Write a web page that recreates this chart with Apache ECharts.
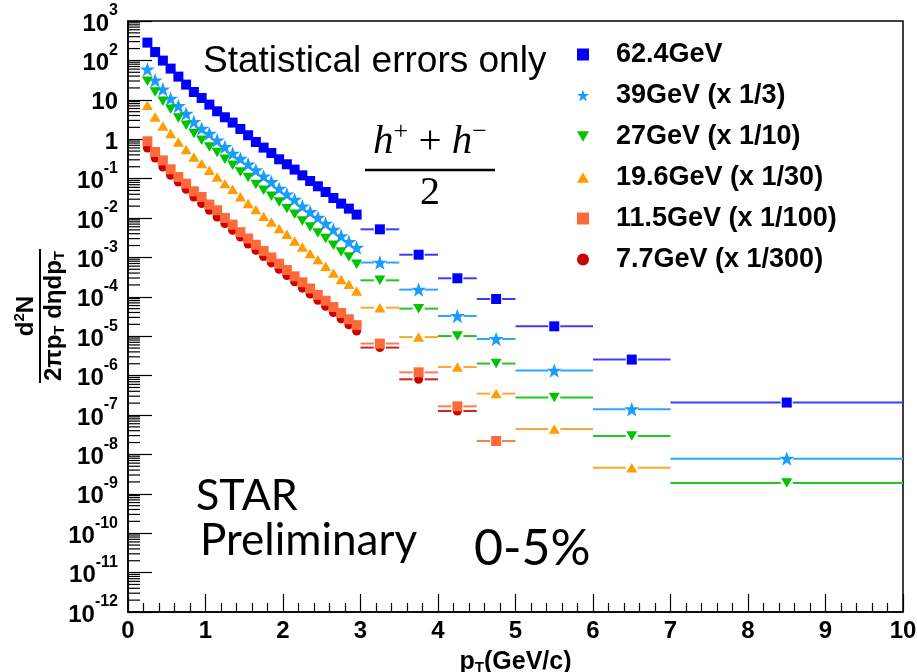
<!DOCTYPE html>
<html>
<head>
<meta charset="utf-8">
<script src="https://cdn.jsdelivr.net/npm/echarts@6/dist/echarts.min.js"></script>
<style>
html,body{margin:0;padding:0;background:#fff;overflow:hidden;}
#chart{width:917px;height:672px;}
</style>
</head>
<body>
<div id="chart"></div>
<script>
// Fine pT bins (bin centres, GeV/c)
const ptLow = [0.25,0.35,0.45,0.55,0.65,0.75,0.85,0.95,1.05,1.15,1.25,1.35,1.45,1.55,
               1.65,1.75,1.85,1.95,2.05,2.15,2.25,2.35,2.45,2.55,2.65,2.75,2.85,2.95];
// Coarse pT bins: lower edge, upper edge, centre
const ptHighLo  = [3.0,3.5,4.0,4.5,5.0,6.0,7.0];
const ptHighHi  = [3.5,4.0,4.5,5.0,6.0,7.0,10.0];
const ptHighMid = [3.25,3.75,4.25,4.75,5.5,6.5,8.5];

// Invariant yields, (h+ + h-)/2, 0-5% centrality, scaled as in legend
const yield624Low = [283,163,98.9,61.9,38.8,24.3,15.8,11.1,7.55,5.11,3.60,2.64,1.82,1.26,
                     0.849,0.612,0.447,0.309,0.231,0.169,0.121,0.0869,0.0638,0.0457,0.0322,0.0232,0.0173,0.0122];
const yield624High = [5.16e-3,1.17e-3,2.95e-4,8.8e-5,1.78e-5,2.55e-6,2.07e-7];

const yield39Low = [59.4,31.3,18.5,10.7,6.97,4.47,2.74,1.86,1.39,0.938,0.634,0.432,0.322,0.231,
                    0.163,0.114,0.0820,0.0557,0.0400,0.0293,0.0198,0.0142,0.0102,0.00721,0.00508,0.00349,0.00246,0.00177];
const yield39High = [7.4e-4,1.52e-4,3.26e-5,8.5e-6,1.34e-6,1.40e-7,7.8e-9];

const yield27Low = [29.5,15.8,9.16,5.74,3.45,2.25,1.39,0.938,0.634,0.457,0.309,0.218,0.147,0.106,
                    0.0705,0.0505,0.0356,0.0255,0.0173,0.0124,0.00839,0.00592,0.00416,0.00300,0.00203,0.00137,0.00102,0.000668];
const yield27High = [2.62e-4,5.0e-5,1.01e-5,2.02e-6,2.77e-7,2.93e-8,1.88e-9];

const yield196Low = [7.24,3.66,2.16,1.39,0.849,0.545,0.353,0.240,0.163,0.110,0.0746,0.0535,0.0347,0.0232,
                     0.0163,0.0110,0.00791,0.00538,0.00385,0.00261,0.00184,0.00125,0.000879,0.000594,0.000402,0.000274,0.000207,0.000140];
const yield196High = [5.3e-5,9.5e-6,1.65e-6,3.49e-7,4.4e-8,4.6e-9];

const yield115Low = [0.885,0.473,0.291,0.172,0.110,0.0746,0.0476,0.0341,0.0219,0.0157,0.0100,0.00679,0.00437,0.00302,
                     0.00209,0.00145,0.00100,0.000692,0.000479,0.000331,0.000234,0.000162,0.000112,7.94e-5,5.50e-5,3.89e-5,2.69e-5,1.91e-5];
const yield115High = [6.5e-6,1.21e-6,1.66e-7,2.19e-8];

const yield77Low = [0.598,0.333,0.197,0.121,0.0820,0.0535,0.0341,0.0232,0.0157,0.0106,0.00721,0.00488,0.00330,0.00219,
                    0.00151,0.00105,0.000724,0.000501,0.000347,0.000240,0.000166,0.000117,8.13e-5,5.75e-5,3.98e-5,2.75e-5,1.95e-5,1.35e-5];
const yield77High = [5.14e-6,8.05e-7,1.26e-7];

const energyLabels = ['62.4GeV','39GeV (x 1/3)','27GeV (x 1/10)','19.6GeV (x 1/30)','11.5GeV (x 1/100)','7.7GeV (x 1/300)'];

// Marker shapes
const SQUARE = 'path://M0,0 L100,0 L100,100 L0,100 Z';
const STAR = 'path://M50,0 L62,34 L98,34 L69,56 L80,92 L50,71 L20,92 L31,56 L2,34 L38,34 Z';
const TRI_DOWN = 'path://M0,0 L100,0 L50,86 Z';
const TRI_UP = 'path://M50,0 L100,86 L0,86 Z';
const DOT = 'path://M50,0 A50,50 0 1 1 49.9,0 Z';

const sets = [
  {name: energyLabels[0], low: yield624Low, high: yield624High, color: '#0000ff', bar: '#3c3cff', symbol: SQUARE,   size: 10},
  {name: energyLabels[1], low: yield39Low,  high: yield39High,  color: '#1a9cff', bar: '#2ea6ff', symbol: STAR,     size: 15},
  {name: energyLabels[2], low: yield27Low,  high: yield27High,  color: '#00c400', bar: '#22c822', symbol: TRI_DOWN, size: 11},
  {name: energyLabels[3], low: yield196Low, high: yield196High, color: '#ff9c00', bar: '#ffa830', symbol: TRI_UP,   size: 11},
  {name: energyLabels[4], low: yield115Low, high: yield115High, color: '#ff6a3d', bar: '#ff7a55', symbol: SQUARE,   size: 10},
  {name: energyLabels[5], low: yield77Low,  high: yield77High,  color: '#cc0000', bar: '#d02020', symbol: DOT,      size: 9}
];

const series = [];

// Log-axis minor ticks (2..9 within each decade), drawn inward from the left axis
const minorTickVals = [];
for (let e = -12; e < 3; e++) {
  for (let k = 2; k <= 9; k++) minorTickVals.push([0, k * Math.pow(10, e)]);
}
series.push({
  type: 'custom', silent: true, data: minorTickVals, z: 1,
  renderItem: function (params, api) {
    const p = api.coord([api.value(0), api.value(1)]);
    return {type: 'line', shape: {x1: p[0], y1: p[1], x2: p[0] + 12, y2: p[1]},
            style: {stroke: '#000', lineWidth: 1.2}};
  }
});

// Horizontal bin-width bars on the coarse bins
sets.forEach(function (s) {
  const rows = s.high.map(function (v, i) { return [ptHighLo[i], ptHighHi[i], ptHighMid[i], v]; });
  series.push({
    type: 'custom', silent: true, data: rows, z: 2,
    renderItem: function (params, api) {
      const y = api.value(3);
      const a = api.coord([api.value(0), y]);
      const b = api.coord([api.value(1), y]);
      const c = api.coord([api.value(2), y]);
      const gap = 6;
      return {type: 'group', children: [
        {type: 'line', shape: {x1: a[0], y1: a[1], x2: c[0] - gap, y2: c[1]}, style: {stroke: s.bar, lineWidth: 2}},
        {type: 'line', shape: {x1: c[0] + gap, y1: c[1], x2: b[0], y2: b[1]}, style: {stroke: s.bar, lineWidth: 2}}
      ]};
    }
  });
});

// Markers (drawing order controls overlap)
[0, 1, 2, 3, 5, 4].forEach(function (idx) {
  const s = sets[idx];
  const pts = s.low.map(function (v, i) { return [ptLow[i], v]; })
    .concat(s.high.map(function (v, i) { return [ptHighMid[i], v]; }));
  series.push({
    name: s.name, type: 'scatter', data: pts, z: 3,
    symbol: s.symbol, symbolSize: s.size, symbolKeepAspect: true,
    itemStyle: {color: s.color, opacity: 1}
  });
});

function expLabel(value) {
  const n = Math.round(Math.log10(value));
  if (n === 0) return '{b|1}';
  if (n === 1) return '{b|10}';
  return '{b|10}{sup|' + n + '}';
}

const labelFont = {fontFamily: 'Liberation Sans', fontWeight: 'bold', color: '#000'};

const chart = echarts.init(document.getElementById('chart'), null, {renderer: 'canvas'});
chart.setOption({
  animation: false,
  backgroundColor: '#fff',
  grid: {left: 128, right: 14, top: 21, bottom: 60, outerBoundsMode: 'none', containLabel: false,
         show: true, borderColor: '#000', borderWidth: 1.5, backgroundColor: 'transparent'},
  xAxis: {
    type: 'value', min: 0, max: 10, interval: 1,
    axisLine: {lineStyle: {color: '#000', width: 1.5}},
    axisTick: {inside: true, length: 18, lineStyle: {color: '#000', width: 1.2}},
    minorTick: {show: true, splitNumber: 5, length: 9, lineStyle: {color: '#000', width: 1.2}},
    splitLine: {show: false},
    axisLabel: {margin: 7, color: '#000', fontFamily: 'Liberation Sans', fontWeight: 'bold', fontSize: 24},
    name: '{m|p}{sub|T}{m|(GeV/c)}', nameLocation: 'middle', nameGap: 38,
    nameTextStyle: {color: '#000',
      rich: {m: Object.assign({fontSize: 25}, labelFont), sub: Object.assign({fontSize: 15, padding: [10, 0, 0, 0]}, labelFont)}}
  },
  yAxis: {
    type: 'log', logBase: 10, min: 1e-12, max: 1e3, interval: 1,
    axisLine: {lineStyle: {color: '#000', width: 1.5}},
    axisTick: {inside: true, length: 24, lineStyle: {color: '#000', width: 1.2}},
    splitLine: {show: false},
    axisLabel: {
      interval: 0, margin: 10, color: '#000', fontFamily: 'Liberation Sans', fontWeight: 'bold', fontSize: 24,
      formatter: expLabel,
      rich: {
        b: Object.assign({fontSize: 24, lineHeight: 36, padding: [6, 0, 0, 0]}, labelFont),
        sup: Object.assign({fontSize: 16, lineHeight: 18, verticalAlign: 'top'}, labelFont)
      }
    }
  },
  legend: {
    orient: 'vertical', left: 572, top: 36,
    itemWidth: 12, itemHeight: 12, itemGap: 14,
    data: sets.map(function (s) {
      return {name: s.name, icon: s.symbol, itemStyle: {color: s.color}};
    }),
    textStyle: {color: '#000', fontFamily: 'Liberation Sans', fontWeight: 'bold', fontSize: 27, lineHeight: 26,
                padding: [0, 0, 0, 22]},
    selectedMode: false
  },
  series: series,
  graphic: [
    {type: 'text', left: 203, top: 43, silent: true,
     style: {text: 'Statistical errors only', fill: '#000', font: '37px "Liberation Sans"'}},
    // (h+ + h-)/2
    {type: 'text', silent: true, x: 430, y: 142,
     style: {text: '{i|h}{s|+}{o| + }{i|h}{s|\u2212}', align: 'center', verticalAlign: 'middle', fill: '#000',
       rich: {i: {font: 'italic 41px "Liberation Serif"'}, o: {font: '41px "Liberation Serif"'},
              s: {font: '26px "Liberation Serif"', padding: [0, 0, 20, 0]}}}},
    {type: 'line', silent: true, shape: {x1: 365, y1: 170, x2: 495, y2: 170}, style: {stroke: '#000', lineWidth: 2.5}},
    {type: 'text', silent: true, x: 430, y: 193,
     style: {text: '2', align: 'center', verticalAlign: 'middle', fill: '#000', font: '40px "Liberation Serif"'}},
    {type: 'text', silent: true, left: 196, top: 475,
     style: {text: 'STAR', fill: '#000', font: '43px Lato'}},
    {type: 'text', silent: true, left: 200, top: 519,
     style: {text: 'Preliminary', fill: '#000', font: '44px Lato'}},
    {type: 'text', silent: true, left: 474, top: 524,
     style: {text: '0-5%', fill: '#000', font: '50px Lato'}},
    // y-axis title: d2N / (2 pi pT d eta dpT), reading bottom to top
    {type: 'group', x: 40, y: 316, rotation: Math.PI / 2, silent: true, children: [
      {type: 'text', x: 0, y: -14,
       style: {text: '{m|d}{sup|2}{m|N}', align: 'center', verticalAlign: 'middle', fill: '#000',
         rich: {m: {font: 'bold 24px "Liberation Sans"'}, sup: {font: 'bold 15px "Liberation Sans"', padding: [0, 0, 12, 0]}}}},
      {type: 'line', shape: {x1: -67, y1: 0, x2: 67, y2: 0}, style: {stroke: '#000', lineWidth: 2}},
      {type: 'text', x: 0, y: 14,
       style: {text: '{m|2\u03c0p}{sub|T}{m| d\u03b7dp}{sub|T}', align: 'center', verticalAlign: 'middle', fill: '#000',
         rich: {m: {font: 'bold 24px "Liberation Sans"'}, sub: {font: 'bold 15px "Liberation Sans"', padding: [12, 0, 0, 0]}}}}
    ]}
  ]
});
</script>
</body>
</html>
